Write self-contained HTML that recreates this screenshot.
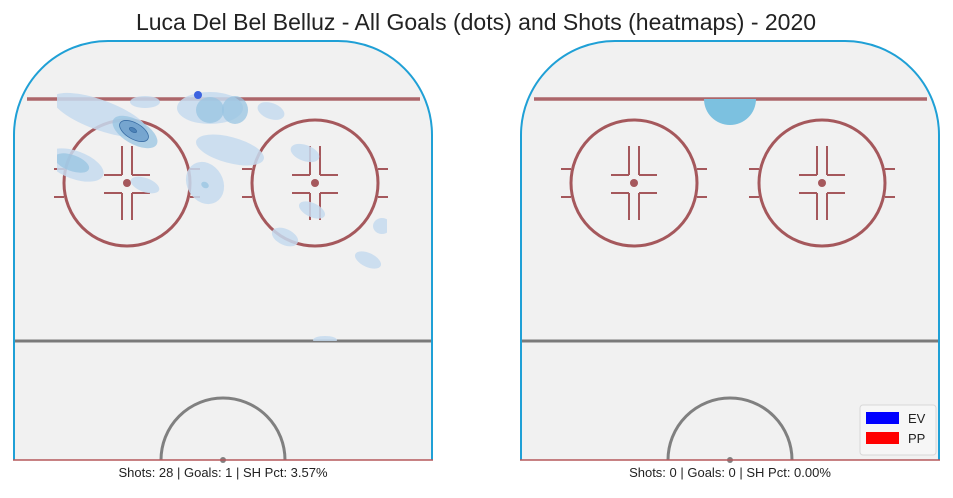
<!DOCTYPE html>
<html><head><meta charset="utf-8"><style>
html,body{margin:0;padding:0;background:#fff;}
body{width:953px;height:493px;overflow:hidden;font-family:"Liberation Sans",sans-serif;}
</style></head><body>
<svg id="chart" width="953" height="493" viewBox="0 0 953 493" xmlns="http://www.w3.org/2000/svg">
<defs>
<clipPath id="clipL"><rect x="57" y="92" width="330" height="249"/></clipPath>
<clipPath id="clipR"><rect x="520" y="99" width="420" height="240"/></clipPath>
</defs>
<text x="476" y="30" text-anchor="middle" font-size="23" fill="#222" font-family="Liberation Sans, sans-serif">Luca Del Bel Belluz - All Goals (dots) and Shots (heatmaps) - 2020</text>
<g id="rinks"></g>
</svg>
<script>
// Rink coordinates: x = 0..420 across, y = 0..420 from end boards
const rinkOffsets = [13, 520];
const panelNames = ['left-rink', 'right-rink'];
const captions = ['Shots: 28 | Goals: 1 | SH Pct: 3.57%', 'Shots: 0 | Goals: 0 | SH Pct: 0.00%'];
// shot density blobs (left panel): center x, center y, radius x, radius y, rotation, density level
const shotX = [87, 122, 121, 120, 62, 59, 197, 197, 222, 258, 132, 217, 192, 192, 132, 292, 299, 272, 369, 355, 312];
const shotY = [75, 92, 91, 90, 125, 123, 68, 70, 70, 71, 62, 110, 143, 145, 145, 113, 170, 197, 186, 220, 300];
const shotRX = [50, 25, 16, 4, 30, 18, 33, 14, 13, 14, 15, 35, 18, 4, 15, 15, 14, 14, 9, 14, 12];
const shotRY = [15, 12, 8, 2, 14, 8, 16, 13, 14, 8, 6, 13, 22, 3, 7, 8, 7, 8, 8, 7, 4];
const shotRot = [20, 30, 30, 30, 20, 20, 0, 0, 0, 20, 0, 15, -30, 30, 20, 20, 25, 25, 0, 25, 0];
const shotLevel = [1, 2, 3, 4, 1, 2, 1, 2, 2, 1, 1, 1, 1, 2, 1, 1, 1, 1, 1, 1, 1];
// right panel blob
const shotX2 = [210];
const shotY2 = [59];
const shotRX2 = [26];
const shotRY2 = [26];
// goals
const goalX = [185];
const goalY = [55];
const goalType = ['EV'];

const NS = 'http://www.w3.org/2000/svg';
const TOP = 40;
function sx(off, v){ return off + v; }
function sy(v){ return TOP + v; }
function mk(tag, attrs, parent){
  const e = document.createElementNS(NS, tag);
  for (const k in attrs) e.setAttribute(k, attrs[k]);
  parent.appendChild(e);
  return e;
}
const levelFill = ['', '#c6dbee', '#98c4e2', '#6d9fcb', '#4a7fb5'];
const levelOp = [0, 0.85, 0.75, 0.85, 0.95];
const root = document.getElementById('rinks');

rinkOffsets.forEach((off, p) => {
  const g = mk('g', {}, root);
  
  
  const W = 420, R = 95, B = 460;
  const outline = `M ${off} ${B} L ${off} ${TOP+R} A ${R} ${R} 0 0 1 ${off+R} ${TOP} L ${off+W-R} ${TOP} A ${R} ${R} 0 0 1 ${off+W} ${TOP+R} L ${off+W} ${B} Z`;
  const ice = mk('path', {d: outline, fill: '#f1f1f1', stroke: 'none'}, g);
  
  
  const brown = '#a5585c';
  const gl = mk('line', {x1: off+14, y1: 99, x2: off+407, y2: 99, stroke: brown, 'stroke-width': 3.5, opacity: 0.9}, g);
  
  
  [114, 302].forEach((cx0, ci) => {
    const cx = off + cx0, cy = 183;
    const c = mk('circle', {cx: cx, cy: cy, r: 63, fill: 'none', stroke: brown, 'stroke-width': 3}, g);
    
    
    mk('circle', {cx: cx, cy: cy, r: 4, fill: brown}, g);
    const st = {stroke: brown, 'stroke-width': 2};
    [[-73,-63],[63,73]].forEach(([a,b]) => {
      mk('line', Object.assign({x1: cx+a, y1: cy-14, x2: cx+b, y2: cy-14}, st), g);
      mk('line', Object.assign({x1: cx+a, y1: cy+14, x2: cx+b, y2: cy+14}, st), g);
    });
    [-5, 5].forEach(dx => {
      mk('line', Object.assign({x1: cx+dx, y1: cy-37, x2: cx+dx, y2: cy-8}, st), g);
      mk('line', Object.assign({x1: cx+dx, y1: cy+10, x2: cx+dx, y2: cy+37}, st), g);
    });
    [-1, 1].forEach(s => {
      mk('line', Object.assign({x1: cx+s*5, y1: cy-8, x2: cx+s*23, y2: cy-8}, st), g);
      mk('line', Object.assign({x1: cx+s*5, y1: cy+10, x2: cx+s*23, y2: cy+10}, st), g);
    });
  });
  const cl = mk('line', {x1: off, y1: 341, x2: off+W, y2: 341, stroke: '#7a7a7a', 'stroke-width': 3}, g);
  
  
  const cc = mk('path', {d: `M ${off+148} ${B} A 62 62 0 0 1 ${off+272} ${B}`, fill: 'none', stroke: '#808080', 'stroke-width': 3}, g);
  
  
  mk('circle', {cx: off+210, cy: B, r: 3, fill: '#808080'}, g);
  const hm = mk('g', {'clip-path': p === 0 ? 'url(#clipL)' : 'url(#clipR)'}, g);
  
  
  if (p === 0) {
    shotX.forEach((v, i) => {
      const e = mk('ellipse', {cx: sx(off, shotX[i]), cy: sy(shotY[i]), rx: shotRX[i], ry: shotRY[i],
        transform: `rotate(${shotRot[i]} ${sx(off, shotX[i])} ${sy(shotY[i])})`,
        fill: levelFill[shotLevel[i]], 'fill-opacity': levelOp[shotLevel[i]],
        stroke: shotLevel[i] >= 3 ? '#3a6ea5' : 'none', 'stroke-width': 0.8}, hm);
      
      
    });
  } else {
    shotX2.forEach((v, i) => {
      const e = mk('ellipse', {cx: sx(off, shotX2[i]), cy: sy(shotY2[i]), rx: shotRX2[i], ry: shotRY2[i],
        fill: '#7cc1e0'}, hm);
      
      
    });
  }
  if (p === 0) {
    goalX.forEach((v, i) => {
      const d = mk('circle', {cx: sx(off, goalX[i]), cy: sy(goalY[i]), r: 4, fill: goalType[i] === 'EV' ? '#3d63e0' : '#ff0000'}, g);
      
      
    });
  }
  const bd = mk('path', {d: `M ${off+1} ${B} L ${off+1} ${TOP+R} A ${R-1} ${R-1} 0 0 1 ${off+R} ${TOP+1} L ${off+W-R} ${TOP+1} A ${R-1} ${R-1} 0 0 1 ${off+W-1} ${TOP+R} L ${off+W-1} ${B}`, fill: 'none', stroke: '#1fa0d6', 'stroke-width': 2}, g);
  
  
  mk('line', {x1: off, y1: B, x2: off+W, y2: B, stroke: '#b5585c', 'stroke-width': 1.5}, g);
  const t = mk('text', {x: off+210, y: 477, 'text-anchor': 'middle', 'font-size': 13, fill: '#222'}, g);
  t.textContent = captions[p];
  
  
});
const lg = mk('g', {}, root);


mk('rect', {x: 860, y: 405, width: 76, height: 50, rx: 3, fill: '#f6f6f6', stroke: '#d8d8d8'}, lg);
[['EV', '#0000ff', 415], ['PP', '#ff0000', 435]].forEach(([lab, col, y]) => {
  const e = mk('g', {}, lg);
  
  
  mk('rect', {x: 866, y: y - 3, width: 33, height: 12, fill: col}, e);
  const t = mk('text', {x: 908, y: y + 8, 'font-size': 13, fill: '#222'}, e);
  t.textContent = lab;
});
</script>
</body></html>
